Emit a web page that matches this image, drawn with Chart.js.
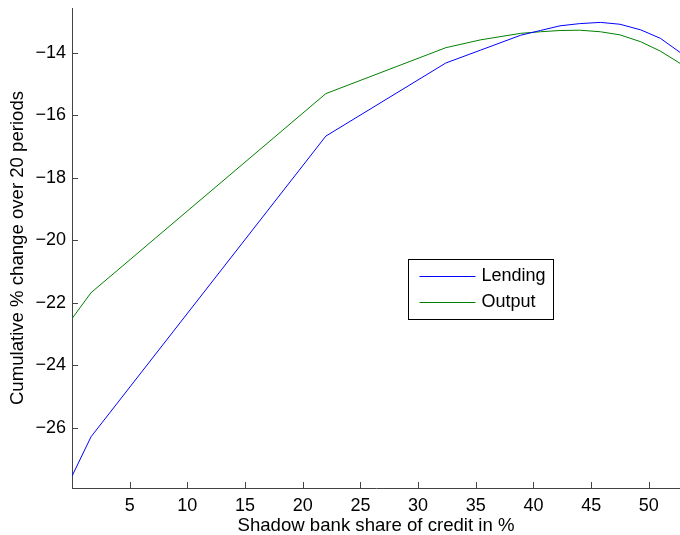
<!DOCTYPE html>
<html>
<head>
<meta charset="utf-8">
<script src="https://cdn.jsdelivr.net/npm/chart.js@4/dist/chart.umd.min.js"></script>
<style>
  html, body { margin: 0; padding: 0; background: #fff; }
  canvas { display: block; }
</style>
</head>
<body>
<canvas id="chart" width="680" height="535"></canvas>
<script>
/* =========================
    DATA
========================= */

// Shadow bank share of credit in % (x-Werte)
const shareOfCredit = [0, 1.65, 22, 32.4, 35.4, 38.9, 40.6, 42.3, 44, 45.8, 47.5, 49.3, 51.0, 52.7];

// Cumulative % change over 20 periods
const lending = [-27.55, -26.29, -16.67, -14.33, -13.92, -13.44, -13.29, -13.14, -13.07, -13.03, -13.09, -13.27, -13.54, -13.99];
const output = [-22.51, -21.68, -15.31, -13.84, -13.59, -13.38, -13.33, -13.29, -13.28, -13.33, -13.43, -13.65, -13.95, -14.34];

const seriesNames = ["Lending", "Output"];

// Achsen
const xTicks = [5, 10, 15, 20, 25, 30, 35, 40, 45, 50];
const yTicks = [-26, -24, -22, -20, -18, -16, -14];
const xRange = { min: 0, max: 52.7 };
const yRange = { min: -27.93, max: -12.57 };


/* =========================
    STYLE
========================= */

const FONT = { family: "'Liberation Sans', Arial, Helvetica, sans-serif", size: 18 };
const TITLE_FONT = { family: FONT.family, size: 18.6 };
const AXIS_COLOR = "#444";
const TICK_LEN = 6;
const COLORS = ["#0000ff", "#008000"];

const minus = v => String(v).replace("-", "\u2212");


/* =========================
    PLUGINS
========================= */

// Tick-Striche nach innen (MATLAB Stil)
const innerTicks = {
  id: "innerTicks",
  afterDatasetsDraw(chart) {
    const { ctx, chartArea, scales } = chart;
    ctx.save();
    ctx.strokeStyle = AXIS_COLOR;
    ctx.lineWidth = 1;
    ctx.beginPath();
    scales.x.ticks.forEach(t => {
      const px = Math.round(scales.x.getPixelForValue(t.value)) + 0.5;
      ctx.moveTo(px, chartArea.bottom);
      ctx.lineTo(px, chartArea.bottom - TICK_LEN);
    });
    scales.y.ticks.forEach(t => {
      const py = Math.round(scales.y.getPixelForValue(t.value)) + 0.5;
      ctx.moveTo(chartArea.left, py);
      ctx.lineTo(chartArea.left + TICK_LEN, py);
    });
    ctx.stroke();
    ctx.restore();
  }
};

// Legende im Plotbereich
const boxLegend = {
  id: "boxLegend",
  afterDraw(chart) {
    const { ctx, chartArea } = chart;
    const x = Math.round(chartArea.left + 335.5) + 0.5;
    const y = Math.round(chartArea.top + 251) + 0.5;
    const w = 145, h = 60;
    ctx.save();
    ctx.fillStyle = "#fff";
    ctx.fillRect(x, y, w, h);
    ctx.strokeStyle = "#000";
    ctx.lineWidth = 1;
    ctx.strokeRect(x, y, w, h);
    ctx.font = FONT.size + "px " + FONT.family;
    ctx.textBaseline = "middle";
    seriesNames.forEach((name, i) => {
      const ly = Math.round(y + 16 + i * 26.5) + 0.5;
      ctx.strokeStyle = COLORS[i];
      ctx.beginPath();
      ctx.moveTo(x + 11, ly);
      ctx.lineTo(x + 67, ly);
      ctx.stroke();
      ctx.fillStyle = "#000";
      ctx.fillText(name, x + 73, ly);
    });
    ctx.restore();
  }
};


/* =========================
    CHART
========================= */

const toPoints = ys => ys.map((y, i) => ({ x: shareOfCredit[i], y }));

new Chart(document.getElementById("chart"), {
  type: "line",
  data: {
    datasets: [lending, output].map((ys, i) => ({
      label: seriesNames[i],
      data: toPoints(ys),
      borderColor: COLORS[i],
      borderWidth: 1,
      pointRadius: 0,
      tension: 0,
      fill: false
    }))
  },
  options: {
    responsive: false,
    animation: false,
    events: [],
    layout: { padding: { top: 8, left: 0, right: 0, bottom: 0 } },
    plugins: {
      legend: { display: false },
      tooltip: { enabled: false }
    },
    scales: {
      x: {
        type: "linear",
        min: xRange.min,
        max: xRange.max,
        afterBuildTicks: s => { s.ticks = xTicks.map(v => ({ value: v })); },
        afterFit: s => { s.height = 47; s.paddingLeft = 0; s.paddingRight = 0; },
        grid: { drawOnChartArea: false, drawTicks: false },
        border: { color: AXIS_COLOR, width: 1 },
        ticks: { color: "#000", font: FONT, padding: 7, maxRotation: 0, autoSkip: false },
        title: {
          display: true,
          text: "Shadow bank share of credit in %",
          color: "#000",
          font: { ...TITLE_FONT, lineHeight: 1 },
          padding: { top: 0, bottom: 0 }
        }
      },
      y: {
        type: "linear",
        min: yRange.min,
        max: yRange.max,
        afterBuildTicks: s => { s.ticks = yTicks.map(v => ({ value: v })); },
        afterFit: s => { s.width = 72; s.paddingTop = 0; s.paddingBottom = 0; },
        grid: { drawOnChartArea: false, drawTicks: false },
        border: { color: AXIS_COLOR, width: 1 },
        ticks: { color: "#000", font: FONT, padding: 6, callback: v => minus(v) },
        title: {
          display: true,
          text: "Cumulative % change over 20 periods",
          color: "#000",
          font: TITLE_FONT,
          padding: { top: 7, bottom: 0 }
        }
      }
    }
  },
  plugins: [innerTicks, boxLegend]
});
</script>
</body>
</html>
